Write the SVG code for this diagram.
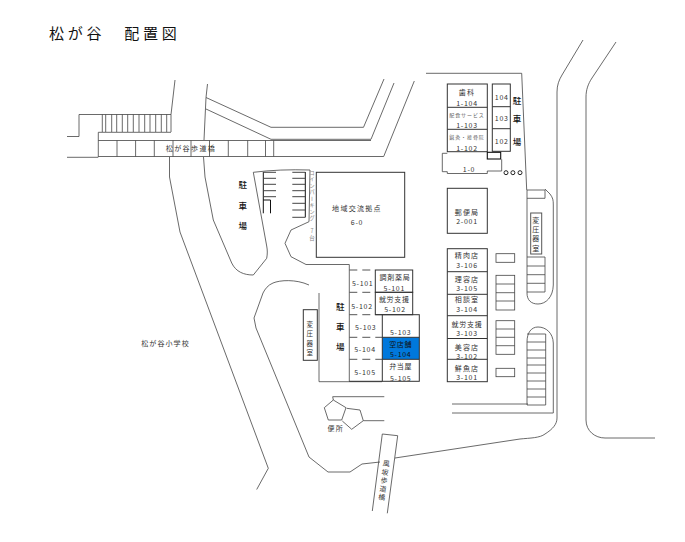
<svg xmlns="http://www.w3.org/2000/svg" width="685" height="542" viewBox="0 0 685 542">
<style>
text{font-family:"Noto Sans CJK JP","Noto Sans",sans-serif;fill:#333;text-anchor:middle;font-size:7px;letter-spacing:.7px}
.l{fill:none;stroke:#444;stroke-width:.8}
.b{fill:none;stroke:#333;stroke-width:1}
.k{fill:none;stroke:#111;stroke-width:1}
.h{fill:none;stroke:#555;stroke-width:1;stroke-dasharray:8 5}
.s{font-size:5px;letter-spacing:.9px;fill:#666}
.p{font-size:8.5px;font-weight:500;fill:#111}
.w{letter-spacing:1.2px}
.t{font-size:6.5px}
</style>
<rect width="685" height="542" fill="#fff"/>
<text x="49" y="38.5" style="font-size:15px;letter-spacing:3.8px;text-anchor:start;fill:#111">松が谷　配置図</text>
<g id="roads">
<path class="l" d="M67 136.5H79V114.5H171V132M98.3 132.3H171M67 157.3H98.3M98.3 132.3V157"/>
<path class="l" d="M175 80L171 114.5M207.5 84L206 97.5L204 140M169.5 157L169.5 177L180 232L268.3 468.3L256.7 489.5"/>
<path class="l" d="M203.5 157L205 177L213.3 220L231.7 263C236 272 244 275 253.3 275L266.7 258.3C267.5 254 267.5 250 266.7 246L253.3 172.3Q280 169 310 170L309 221.7L291 230L285 243.3L291 256.7L306 264.5H349.3V381.5"/>
<path class="l" d="M309 285C296 279 280 280 273 283C268 285 265 289 263 293L254 318L256 328L309 457L328 472L350 472L362 464L380 462M395 458L520 439C530 438 540 438 545 434C553 429 557 424 557 418V92C557 85 559 80 562 75L583 40"/>
<path class="l" d="M616 42L592 78C588 84 586 90 586 97V420C586 431 595 438 605 438H655"/>
<path class="l" d="M206 97.5L271 127.3H363.5L384 79M206 109L271 139.3H371L394 83M98.3 140.5H371M98.3 156.5H383.7L414.3 81"/>
<path class="l" d="M117 140.5V156.5M135.6 140.5V156.5M154.3 140.5V156.5M173 140.5V156.5M191 140.5V156.5M209.5 140.5V156.5M228.3 140.5V156.5M247.7 140.5V156.5M265.5 140.5V156.5M273.7 140.5V156.5"/>
<path class="l" d="M102.3 114.5V132M105.7 114.5V132M111.7 114.5V132M116.7 114.5V132M122.3 114.5V132M127.7 114.5V132M133.3 114.5V132M139 114.5V132M144.7 114.5V132M150 114.5V132M155.7 114.5V132M161.3 114.5V132M166.7 114.5V132"/>
<path class="l" d="M426 73.3H521.7L526.7 190M452 404H528M452 413H553.3V343C553 333 546 327 538 327C531 327 527 333 527 342V405"/>
<path class="l" d="M545 189L550 194C553 198 553.3 200 553.3 205V285C553 297 546 304 538 304C531 304 527 300 527 293V190"/>
<path class="l" d="M319 293V381.7H382M332.7 396.7H384.3M363.3 420.7H384.3"/>
</g>
<text x="191" y="151" style="letter-spacing:1.4px">松が谷歩道橋</text>
<text x="165.5" y="346" style="letter-spacing:1.1px">松が谷小学校</text>
<g id="parking-a">
<path class="k" d="M263.3 172V213.3M263.3 200H270.5V213.3M305.3 172V217.3"/>
<path class="l" style="stroke-width:1" d="M263.3 172.3H276M263.3 178.3H276M263.3 184.3H276M263.3 190.7H276M263.3 196.7H276M292.3 172.3H305.3M292.3 178.3H305.3M292.3 184.3H305.3M292.3 190.7H305.3M292.3 196.7H305.3M292.3 203.3H305.3M292.3 210H305.3M292.3 217.3H305.3"/>
<text class="p" x="243" y="188">駐</text><text class="p" x="243" y="209">車</text><text class="p" x="243" y="229">場</text>
</g>
<text x="312" y="170" style="writing-mode:vertical-rl;text-orientation:upright;text-anchor:start;font-size:5.5px;letter-spacing:1px;fill:#888">コインパーキング　7台</text>
<g id="community"><rect class="b" x="316.3" y="172.3" width="88.4" height="85"/>
<text x="357" y="211" style="letter-spacing:1.3px">地域交流拠点</text><text x="357" y="224.5">6-0</text></g>
<g id="parking-b">
<path class="h" d="M349.3 270H375.3M349.3 292.3H375.3M349.3 314.7H382.3M349.3 337.3H382.3M349.3 359.3H382.3"/>
<path class="b" d="M349.3 381.3H382.3"/>
<text x="362.7" y="286">5-101</text><text x="362" y="308.5">5-102</text><text x="365.7" y="330">5-103</text><text x="365" y="352">5-104</text><text x="365" y="374.5">5-105</text>
<text class="p" x="340.7" y="309.5">駐</text><text class="p" x="340.7" y="330">車</text><text class="p" x="340.7" y="349.5">場</text>
</g>
<g id="b5"><rect class="b" x="375.3" y="270" width="37.4" height="22.3"/><rect class="b" x="375.3" y="292.3" width="37.4" height="22.4"/>
<rect x="382.3" y="337.3" width="37" height="22" fill="#0078dc"/>
<rect class="b" x="382.3" y="314.7" width="37" height="66.6"/>
<path class="b" d="M382.3 337.3H419.3M382.3 359.3H419.3"/>
<text x="395" y="280">調剤薬局</text><text x="394.3" y="291">5-101</text><text x="394.3" y="302">就労支援</text><text x="395" y="312">5-102</text>
<text x="400.7" y="334.5">5-103</text><text x="400.7" y="347" style="fill:#111">空店舗</text><text x="400.7" y="357" style="fill:#111">5-104</text><text x="400.7" y="369">弁当屋</text><text x="400.7" y="381">5-105</text></g>
<g id="trans-a"><rect class="b" x="303.3" y="309.7" width="14" height="50.6"/>
<text class="t" x="310" y="326.5">変</text><text class="t" x="310" y="336">圧</text><text class="t" x="310" y="345.5">器</text><text class="t" x="310" y="355">室</text></g>
<g id="toilet"><path class="l" d="M332.7 396.7L333.3 400L346 407.7L341.7 420H328.3L324.3 407.7L333.3 400M346.7 408.3L360 410L363.3 420.7L351.7 429.3L342.3 421"/>
<text x="335.7" y="431" style="letter-spacing:1.2px">便所</text></g>
<g id="bridge-s"><path class="l" d="M372.3 511L382.3 434L397.7 435.7L387.3 513.3"/>
<g transform="rotate(7.5 384.5 480)"><text x="384.5" y="466">風</text><text x="384.5" y="475">坂</text><text x="384.5" y="483">歩</text><text x="384.5" y="491.5">道</text><text x="384.5" y="500">橋</text></g></g>
<g id="b1"><rect class="b" x="447.3" y="84" width="40" height="67.7"/><path class="b" d="M447.3 107.3H487.3M447.3 129.3H487.3"/>
<text x="467" y="94.5" class="w">歯科</text><text x="467" y="105.5">1-104</text><text class="s" x="467" y="116.5">配食サービス</text><text x="467" y="128">1-103</text><text class="s" x="467" y="139">鍼灸・接骨院</text><text x="467" y="151">1-102</text>
<rect class="b" x="492.3" y="84" width="18" height="67.3"/><path class="b" d="M492.3 106.7H510.3M492.3 128.7H510.3"/>
<text x="501.7" y="99.5">104</text><text x="501.7" y="120.5">103</text><text x="501.7" y="143.5">102</text>
<text class="p" x="517.3" y="103.5">駐</text><text class="p" x="517.3" y="121.5">車</text><text class="p" x="517.3" y="145">場</text></g>
<g id="b10"><path class="l" d="M447.3 153.3H442.3V171.7H447.3V173.5H487.3V171H501.7V159.3"/>
<rect x="487.3" y="152.3" width="13.4" height="6.7" fill="none" stroke="#111" stroke-width="1.1"/>
<text x="469" y="172">1-0</text>
<g fill="none" stroke="#222" stroke-width="1"><circle cx="506" cy="172.7" r="2"/><circle cx="512.9" cy="172.7" r="2"/><circle cx="520" cy="172.7" r="2"/></g></g>
<g id="b2"><rect class="b" x="447.3" y="188.3" width="40" height="45"/><text x="467" y="214.5" class="w">郵便局</text><text x="467" y="224">2-001</text></g>
<g id="b3"><rect class="b" x="447.3" y="248.7" width="40" height="133"/><path class="b" d="M447.3 271.7H487.3M447.3 294.3H487.3M447.3 315.7H487.3M447.3 338.5H487.3M447.3 359.3H487.3"/>
<text x="467" y="258" class="w">精肉店</text><text x="467" y="268">3-106</text><text x="467" y="282" class="w">理容店</text><text x="467" y="291">3-105</text><text x="467" y="302" class="w">相談室</text><text x="467" y="312">3-104</text><text x="467" y="326.5">就労支援</text><text x="467" y="335.5">3-103</text><text x="467" y="349.5" class="w">美容店</text><text x="467" y="358.5">3-102</text><text x="467" y="370.5" class="w">鮮魚店</text><text x="467" y="379.5">3-101</text></g>
<g id="parking-c"><rect class="l" x="496" y="253.7" width="18.7" height="8.6"/><rect class="l" x="496" y="275.3" width="18.7" height="34.7"/><path class="l" d="M496 284H514.7M496 292.7H514.7M496 301H514.7"/><rect class="l" x="496" y="320.7" width="18.7" height="33.6"/><path class="l" d="M496 329H514.7M496 337.3H514.7M496 345.7H514.7"/><rect class="l" x="496" y="368.3" width="18.7" height="8.4"/></g>
<g id="parking-d"><path class="l" d="M527 190H545M527 198.3H545M545 190V198.3M527 257H545M527 266H545M527 274.7H545M527 283.3H545M527 292H545M545 257V292"/>
<path class="l" d="M527 334H545.7V405M527 342H545.7M527 350H545.7M527 358H545.7M527 365H545.7M527 373H545.7M527 381H545.7M527 389H545.7M527 397H545.7M527 405H545.7"/></g>
<g id="trans-b"><rect x="530.7" y="213" width="11" height="41" fill="none" stroke="#555" stroke-width="1"/>
<text x="536.2" y="222.5">変</text><text x="536.2" y="231.5">圧</text><text x="536.2" y="241">器</text><text x="536.2" y="250.5">室</text></g>
</svg>
